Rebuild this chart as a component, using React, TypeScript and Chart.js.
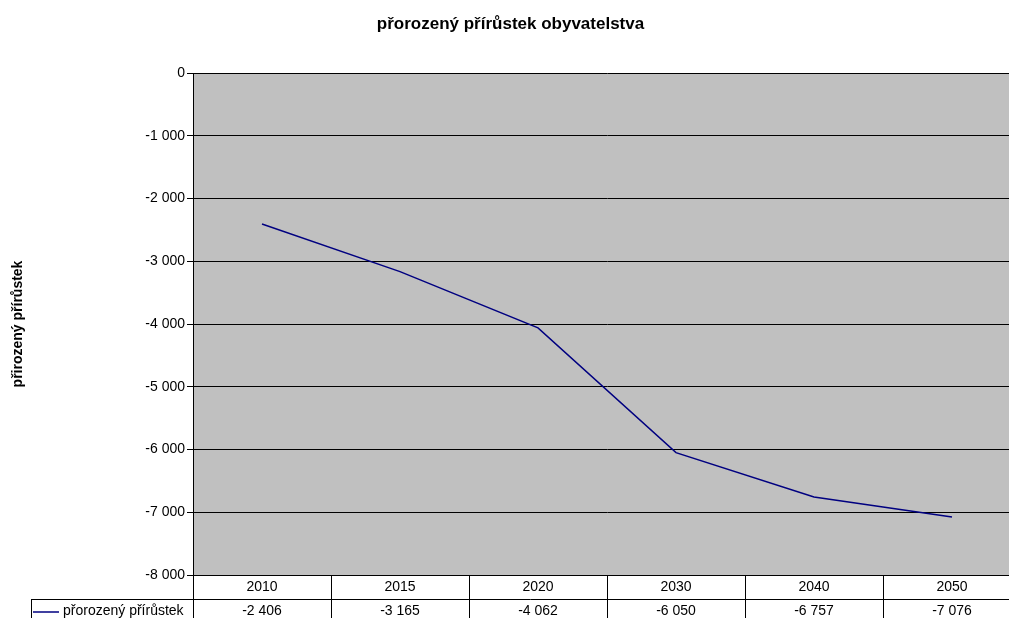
import React, { useEffect, useRef } from "react";
import { Chart, registerables } from "chart.js";

Chart.register(...registerables);

const years = ["2010", "2015", "2020", "2030", "2040", "2050"];
const naturalIncrease = [-2406, -3165, -4062, -6050, -6757, -7076];
const seriesLabel = "přorozený přírůstek";
const chartTitle = "přorozený přírůstek obyvatelstva";
const yAxisTitle = "přirozený přírůstek";
const yMin = -8000;
const yMax = 0;
const yStep = 1000;

const FONT = "'Liberation Sans', Arial, sans-serif";
const LINE_COLOR = "#000080";

// "-2406" -> "-2 406"
function fmt(v: number): string {
  const s = Math.abs(Math.round(v)).toString().replace(/\B(?=(\d{3})+(?!\d))/g, " ");
  return (v < 0 ? "-" : "") + s;
}

// grey plot background
const plotBackground = {
  id: "plotBackground",
  beforeDraw(chart: any) {
    const { ctx, chartArea } = chart;
    ctx.save();
    ctx.fillStyle = "#C0C0C0";
    ctx.fillRect(chartArea.left, chartArea.top, chartArea.right - chartArea.left, chartArea.bottom - chartArea.top);
    ctx.restore();
  },
};

// data table under the plot: categories row + values row with legend key
const dataTable = {
  id: "dataTable",
  afterDraw(chart: any) {
    const { ctx, chartArea } = chart;
    const x = chart.scales.x;
    const n = years.length;
    const step = (x.right - x.left) / n;
    const top = chartArea.bottom;
    const rowSep = top + 24;
    const bottom = chart.height + 5;
    const cellLeft = 31;

    ctx.save();
    ctx.strokeStyle = "#000000";
    ctx.lineWidth = 1;

    // vertical column lines
    for (let i = 0; i <= n; i++) {
      const px = Math.round(x.getPixelForValue(i) - step / 2) + 0.5;
      ctx.beginPath();
      ctx.moveTo(px, top);
      ctx.lineTo(px, bottom);
      ctx.stroke();
    }
    // row separator (extends over legend cell)
    ctx.beginPath();
    ctx.moveTo(cellLeft, rowSep + 0.5);
    ctx.lineTo(chart.width, rowSep + 0.5);
    ctx.stroke();
    // legend cell left border
    ctx.beginPath();
    ctx.moveTo(cellLeft + 0.5, rowSep);
    ctx.lineTo(cellLeft + 0.5, bottom);
    ctx.stroke();

    // legend key
    ctx.strokeStyle = LINE_COLOR;
    ctx.lineWidth = 1.5;
    ctx.beginPath();
    ctx.moveTo(33, rowSep + 13);
    ctx.lineTo(59, rowSep + 13);
    ctx.stroke();

    ctx.fillStyle = "#000000";
    ctx.font = `14px ${FONT}`;
    ctx.textBaseline = "middle";
    ctx.textAlign = "left";
    ctx.fillText(seriesLabel, 63, rowSep + 12);

    ctx.textAlign = "center";
    for (let i = 0; i < n; i++) {
      const cx = x.getPixelForValue(i);
      ctx.fillText(years[i], cx, top + 12);
      ctx.fillText(fmt(naturalIncrease[i]), cx, rowSep + 12);
    }
    ctx.restore();
  },
};

export default function App() {
  const canvasRef = useRef<HTMLCanvasElement | null>(null);

  useEffect(() => {
    const canvas = canvasRef.current;
    if (!canvas) return;
    const chart = new Chart(canvas, {
      type: "line",
      data: {
        labels: years,
        datasets: [
          {
            label: seriesLabel,
            data: naturalIncrease,
            borderColor: LINE_COLOR,
            backgroundColor: LINE_COLOR,
            borderWidth: 1.5,
            pointRadius: 0,
            tension: 0,
            fill: false,
          },
        ],
      },
      options: {
        responsive: false,
        animation: false,
        layout: { padding: { left: 0, right: 9, top: 0, bottom: 43 } },
        plugins: {
          legend: { display: false },
          tooltip: { enabled: false },
          title: {
            display: true,
            text: chartTitle,
            color: "#000000",
            font: { family: FONT, size: 17, weight: "bold" },
            padding: { top: 14, bottom: 38.6 },
          },
        },
        scales: {
          x: {
            type: "category",
            display: false,
            offset: true,
          },
          y: {
            min: yMin,
            max: yMax,
            afterFit(scale: any) {
              scale.width = 193;
            },
            ticks: {
              stepSize: yStep,
              color: "#000000",
              padding: 2,
              font: { family: FONT, size: 14 },
              callback: (v: any) => fmt(Number(v)),
            },
            grid: {
              color: "#000000",
              lineWidth: 1,
              tickLength: 6,
              tickColor: "#000000",
            },
            border: { color: "#000000", width: 1 },
            title: {
              display: true,
              text: yAxisTitle,
              color: "#000000",
              font: { family: FONT, size: 14, weight: "bold" },
              padding: { top: 9.6, bottom: 0 },
            },
          },
        },
      },
      plugins: [plotBackground, dataTable],
    });
    return () => chart.destroy();
  }, []);

  return (
    <div
      style={{
        position: "fixed",
        left: 0,
        top: 0,
        width: 1009,
        height: 618,
        overflow: "hidden",
        background: "#ffffff",
      }}
    >
      <canvas ref={canvasRef} width={1030} height={618} style={{ display: "block" }} />
    </div>
  );
}
